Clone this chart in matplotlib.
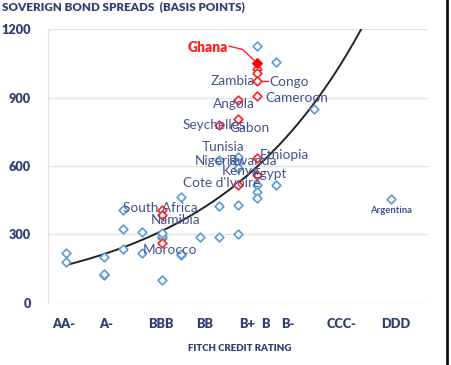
import matplotlib
matplotlib.use("Agg")
import matplotlib.pyplot as plt
import numpy as np

# rating axis (column index)
tick_pos = [-0.1, 2.1, 4.95, 7.26, 9.47, 10.42, 11.58, 14.42, 17.26]
tick_labels = ["AA-", "A-", "BBB", "BB", "B+", "B", "B-", "CCC-", "DDD"]

# other sovereigns (blue)
blue_x = [0, 0, 2, 2, 2, 3, 3, 3, 4, 4, 5, 5, 5, 5, 6, 6, 6, 7, 8, 8, 8,
          9, 9, 9, 9, 9, 10, 10, 10, 10, 11, 11, 13, 17]
blue_y = [220, 178, 200, 123, 128, 407, 323, 237, 312, 218, 285, 295, 305, 101,
          466, 212, 216, 290, 425, 290, 627, 429, 302, 641, 612, 590,
          1127, 517, 488, 459, 1054, 517, 848, 454]

# african sovereigns (red)
red_x = [10, 10, 10, 10, 10, 9, 9, 8, 10, 10, 9, 5, 5, 5]
red_y = [1050, 1025, 1007, 974, 908, 889, 805, 780, 634, 561, 517, 407, 385, 264]

# country labels and where they sit
names = ["Zambia", "Congo", "Cameroon", "Angola", "Seychelles", "Gabon", "Tunisia",
         "Ethiopia", "Nigeria", "Rwanda", "Kenya", "Egypt", "Cote d'Ivoire",
         "South Africa", "Namibia", "Morocco"]
name_x = [8.75, 11.7, 12.1, 8.8, 7.75, 9.6, 8.2, 11.45, 7.85, 9.8, 9.15, 10.65, 8.15,
          4.95, 5.75, 5.45]
name_y = [972, 968, 898, 872, 780, 767, 683, 648, 622, 622, 578, 565, 526,
          416, 364, 232]

# exponential trend line y = a*exp(b*x)
trend_a, trend_b = 166, 0.128

navy = "#2f3f74"
fig = plt.figure(figsize=(4.52, 3.65), dpi=100)
ax = fig.add_axes([0.106, 0.170, 0.841, 0.7505])

ax.set_xlim(-0.95, 18.95)
ax.set_ylim(0, 1200)
ax.yaxis.grid(True, color="#e3e3e3", lw=1)
ax.set_axisbelow(True)
for s in ["top", "right", "bottom"]:
    ax.spines[s].set_visible(False)
ax.spines["left"].set_color("#e3e3e3")
ax.tick_params(length=0)
ax.set_yticks([0, 300, 600, 900, 1200])
ax.set_yticklabels(["0", "300", "600", "900", "1200"], fontsize=9.2,
                   fontweight="heavy", color=navy, family="Lato")
ax.tick_params(axis="y", pad=12)
ax.set_xticks(tick_pos)
ax.set_xticklabels(tick_labels, fontsize=9.2, fontweight="heavy", color=navy,
                   family="Lato")
ax.tick_params(axis="x", pad=11)

tx = np.linspace(0, 16, 200)
ax.plot(tx, trend_a * np.exp(trend_b * tx), color="#222222", lw=1.4, zorder=2)

ax.scatter(blue_x, blue_y, marker="D", s=20, facecolors="white",
           edgecolors="#5b9bd5", linewidths=1.2, zorder=3)
ax.scatter(red_x, red_y, marker="D", s=20, facecolors="white",
           edgecolors="#ff2020", linewidths=1.2, zorder=4)
ax.scatter([10], [1050], marker="D", s=22, color="#ff0000", zorder=5)

for n, x, y in zip(names, name_x, name_y):
    ax.text(x, y, n, ha="center", va="center", fontsize=9.8, color="#44538a",
            family="Lato", zorder=6)
ax.text(17, 403, "Argentina", ha="center", va="center", fontsize=6.8,
        color="#44538a", family="Lato", fontweight="bold")

# Ghana label with leader line
ax.text(7.4, 1117, "Ghana", ha="center", va="center", fontsize=10,
        fontweight="heavy", color="#ff2020", family="Lato")
ax.plot([8.55, 9.25, 9.95], [1125, 1110, 1055], color="#ff2020", lw=1)
ax.plot([9.6, 9.9], [974, 974], color="#ff2020", lw=1)
ax.plot([10.1, 10.55], [972, 972], color="#ff2020", lw=1)

fig.text(0.005, 0.981, "SOVERIGN BOND SPREADS  (BASIS POINTS)", fontsize=8.4,
         fontweight="heavy", color=navy, family="Lato", va="center")
fig.text(0.53, 0.044, "FITCH CREDIT RATING", fontsize=7, fontweight="heavy",
         color=navy, family="Lato", ha="center", va="center")

# frame edge on the right of the screenshot
fig.add_artist(plt.Line2D([0.99, 0.99], [0, 1], color="#111111", lw=2,
                          transform=fig.transFigure))

fig.savefig("out.png", dpi=100)
